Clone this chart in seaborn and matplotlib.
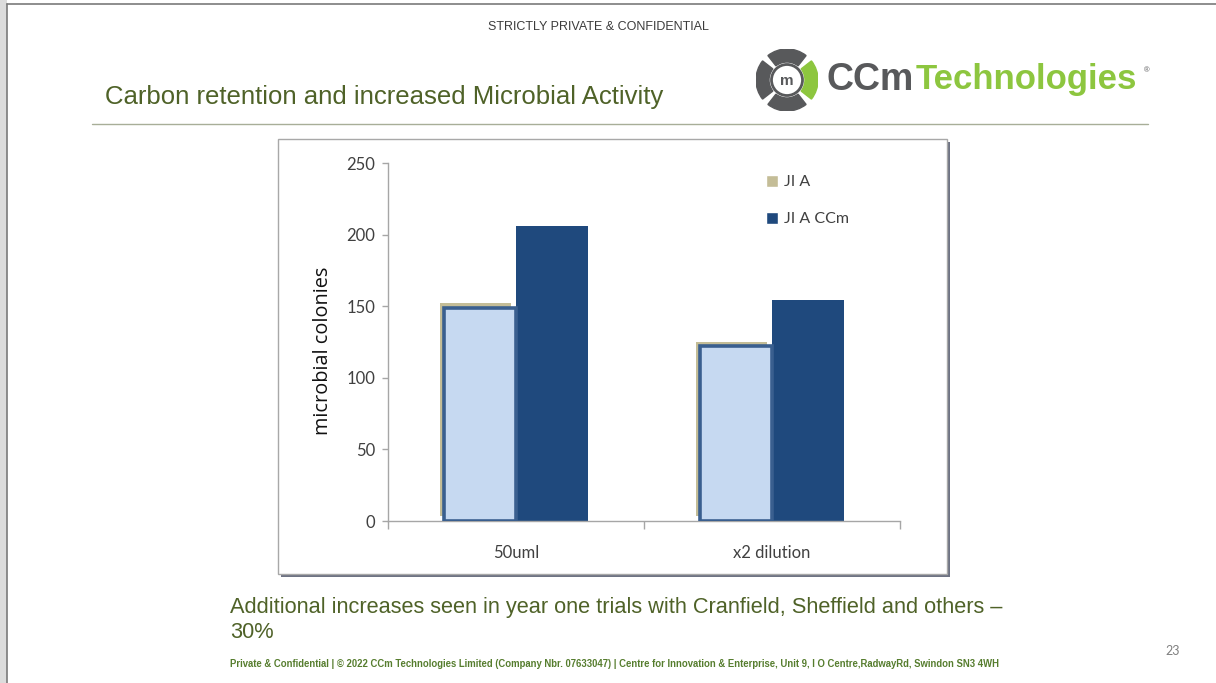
import matplotlib
matplotlib.use("Agg")
import matplotlib.pyplot as plt
import matplotlib.patheffects as pe
from matplotlib.patches import Rectangle, Wedge, Circle
import pandas as pd
import seaborn as sns

# data
conditions = ["50uml", "x2 dilution"]
series = ["JI A", "JI A CCm"]
ji_a = [149, 122]
ji_a_ccm = [206, 154]
yticks = [0, 50, 100, 150, 200, 250]

df = pd.DataFrame({
    "condition": conditions * 2,
    "series": [series[0]] * 2 + [series[1]] * 2,
    "colonies": ji_a + ji_a_ccm,
})

tan = "#C4BD97"
navy = "#1F497D"
light = "#C6D9F1"
edge_blue = "#3A5F8F"
green_txt = "#4F6228"

sns.set_theme(style="white")
plt.rcParams["font.family"] = ["Liberation Sans", "DejaVu Sans"]

W, H = 1216, 683
fig = plt.figure(figsize=(W / 100, H / 100), dpi=100)
fig.patch.set_facecolor("white")


def fx(x):
    return x / W


def fy(y):
    return 1 - y / H


# slide edge
fig.add_artist(Rectangle((0, 0), fx(7), 1, transform=fig.transFigure,
                         facecolor="#DCDCDC", edgecolor="none", zorder=-2))
fig.add_artist(plt.Line2D([fx(7), fx(7)], [0, fy(4)], transform=fig.transFigure,
                          color="#7A7A7A", lw=1.2, zorder=-2))
fig.add_artist(plt.Line2D([fx(7), 1], [fy(4), fy(4)], transform=fig.transFigure,
                          color="#7A7A7A", lw=1.2, zorder=-2))

# header and title
fig.text(fx(598), fy(27), "STRICTLY PRIVATE & CONFIDENTIAL", ha="center", va="center",
         fontsize=9, color="#3C3C3C")
fig.text(fx(105), fy(97), "Carbon retention and increased Microbial Activity",
         ha="left", va="center", fontsize=18.5, color=green_txt)
fig.add_artist(plt.Line2D([fx(92), fx(1148)], [fy(124), fy(124)], transform=fig.transFigure,
                          color="#A8AE98", lw=1, zorder=-2))

# logo
fig.text(fx(827), fy(80), "CCm", ha="left", va="center", fontsize=27,
         fontweight="bold", color="#58595B")
fig.text(fx(916), fy(80), "Technologies", ha="left", va="center", fontsize=25,
         fontweight="bold", color="#8DC63F")
fig.text(fx(1144), fy(71), "®", ha="left", va="center", fontsize=5.5, color="#58595B")
lax = fig.add_axes([fx(756), fy(111), 62 / W, 62 / H])
lax.set_xlim(-1, 1)
lax.set_ylim(-1, 1)
lax.set_aspect("equal")
lax.axis("off")
for ang, col in [(0, "#8DC63F"), (90, "#58595B"), (180, "#58595B"), (270, "#58595B")]:
    lax.add_patch(Wedge((0, 0), 1, ang - 38, ang + 38, width=0.42, color=col))
lax.add_patch(Circle((0, 0), 0.5, facecolor="white", edgecolor="#58595B", lw=2))
lax.text(0, -0.02, "m", ha="center", va="center", fontsize=11, fontweight="bold",
         color="#58595B")

# chart frame
frame = Rectangle((fx(278), fy(574)), fx(947) - fx(278), fy(139) - fy(574),
                  transform=fig.transFigure, facecolor="white", edgecolor="#A8A8A8",
                  lw=1, zorder=-1)
frame.set_path_effects([pe.SimplePatchShadow(offset=(2.2, -2.2), shadow_rgbFace="#6E7383",
                                             alpha=1), pe.Normal()])
fig.add_artist(frame)

ax = fig.add_axes([fx(388), fy(521), 512 / W, 358 / H])
ax.set_zorder(1)
ax.set_facecolor("none")
sns.barplot(data=df, x="condition", y="colonies", hue="series", order=conditions,
            hue_order=series, palette=[tan, navy], width=0.56, saturation=1, ax=ax)

# JI A bars: light fill, blue border, tan offset behind
for bar in ax.containers[0]:
    bar.set_facecolor(light)
    bar.set_edgecolor(edge_blue)
    bar.set_linewidth(2.6)
    bar.set_zorder(3)
    bar.set_path_effects([pe.SimplePatchShadow(offset=(-3.3, 3.3), shadow_rgbFace=tan,
                                               alpha=1), pe.Normal()])
for bar in ax.containers[1]:
    bar.set_edgecolor("none")
    bar.set_zorder(2)

ax.set_xlim(-0.5, 1.5)
ax.set_ylim(0, 250)
ax.set_yticks(yticks)
ax.set_xticks(range(len(conditions)))
ax.set_xticks([-0.5, 0.5, 1.5], minor=True)
ax.set_xlabel("")
ax.set_ylabel("microbial colonies", fontsize=14.3, family=["Open Sans", "DejaVu Sans"],
              color="#111111")
ax.yaxis.set_label_coords(-0.108, 0.475)
for lab in ax.get_xticklabels() + ax.get_yticklabels():
    lab.set_family(["Lato", "DejaVu Sans"])
    lab.set_fontsize(12)
    lab.set_color("#404040")
ax.tick_params(axis="y", left=True, length=4, width=1, color="#A6A6A6", pad=5)
ax.tick_params(axis="x", which="major", bottom=True, length=0, pad=17)
ax.tick_params(axis="x", which="minor", bottom=True, length=6, width=1, color="#A6A6A6")
sns.despine(ax=ax)
for side in ["left", "bottom"]:
    ax.spines[side].set_color("#A6A6A6")
    ax.spines[side].set_linewidth(1)

sns.move_legend(ax, "upper left", bbox_to_anchor=(0.725, 0.985), title=None, frameon=False,
                handlelength=0.8, handleheight=0.8, handletextpad=0.35, labelspacing=1.4,
                borderaxespad=0, prop={"family": ["Lato", "DejaVu Sans"], "size": 11.5})
for t in ax.get_legend().get_texts():
    t.set_color("#404040")

# bottom text
fig.text(fx(230), fy(607),
         "Additional increases seen in year one trials with Cranfield, Sheffield and others \u2013",
         ha="left", va="center", fontsize=15.7, color=green_txt)
fig.text(fx(230), fy(633), "30%", ha="left", va="center", fontsize=15.7, color=green_txt)
fig.text(fx(230), fy(664),
         "Private & Confidential | \u00a9 2022 CCm Technologies Limited (Company Nbr. 07633047) | "
         "Centre for Innovation & Enterprise, Unit 9, I O Centre,RadwayRd, Swindon SN3 4WH",
         ha="left", va="center", fontsize=6.85, fontweight="bold", color="#567D2E")
fig.text(fx(1173), fy(651), "23", ha="center", va="center", fontsize=9, color="#7F7F7F",
         family=["Lato", "DejaVu Sans"])

fig.savefig("out.png", dpi=100)
